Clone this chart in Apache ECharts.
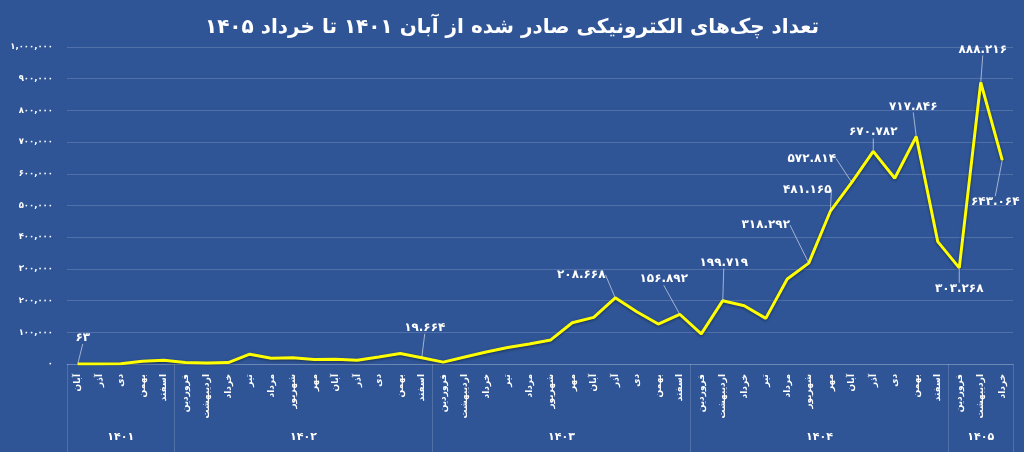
<!DOCTYPE html>
<html>
<head>
<meta charset="utf-8">
<script src="https://cdn.jsdelivr.net/npm/echarts@6/dist/echarts.min.js"></script>
<style>
  html, body { margin: 0; padding: 0; background: #2F5597; }
  #chart { width: 1024px; height: 452px; }
</style>
</head>
<body>
<div id="chart"></div>
<script>
// ---------------- DATA ----------------
const chartTitle = 'تعداد چک‌های الکترونیکی صادر شده از آبان ۱۴۰۱ تا خرداد ۱۴۰۵';

const monthLabels = [
    'آبان', 'آذر', 'دی', 'بهمن', 'اسفند',
    'فروردین', 'اردیبهشت', 'خرداد', 'تیر', 'مرداد', 'شهریور', 'مهر', 'آبان', 'آذر', 'دی', 'بهمن', 'اسفند',
    'فروردین', 'اردیبهشت', 'خرداد', 'تیر', 'مرداد', 'شهریور', 'مهر', 'آبان', 'آذر', 'دی', 'بهمن', 'اسفند',
    'فروردین', 'اردیبهشت', 'خرداد', 'تیر', 'مرداد', 'شهریور', 'مهر', 'آبان', 'آذر', 'دی', 'بهمن', 'اسفند',
    'فروردین', 'اردیبهشت', 'خرداد'
];

const years = ['۱۴۰۱', '۱۴۰۲', '۱۴۰۳', '۱۴۰۴', '۱۴۰۵'];
const monthsPerYear = [5, 12, 12, 12, 3];

const chequeCounts = [
    63, 300, 900, 8500, 12000,
    5000, 3500, 4500, 31000, 18000, 20000, 14000, 15000, 12000, 22000, 33000, 19664,
    6000, 22000, 38000, 52000, 63000, 76000, 130000, 147000, 208668, 165000, 126000, 156892,
    95000, 199719, 184000, 144000, 268000, 318292, 481165, 572814, 670782, 586000, 717846, 386000,
    303268, 888216, 643064
];

const yTicks = [0, 100000, 200000, 300000, 400000, 500000, 600000, 700000, 800000, 900000, 1000000];

// which points carry a value label, and where the label is moved (dx, dy)
const labelOffsets = {
    0: [5, -26],
    16: [3, -30],
    25: [-34, -23],
    28: [-16, -35],
    30: [1, -38],
    34: [-43, -38],
    35: [-23, -22],
    36: [-40, -24],
    37: [0, -19],
    39: [-3, -30],
    41: [0, 21],
    42: [2, -33],
    43: [-7, 42]
};

// ---------------- HELPERS ----------------
function toFa(s) {
    return String(s).replace(/\d/g, d => '۰۱۲۳۴۵۶۷۸۹'[d]);
}

function groupNum(v, sep) {
    return toFa(Math.round(v).toString().replace(/\B(?=(\d{3})+(?!\d))/g, sep));
}

// year group boundaries / centres on a -0.5 .. n-0.5 value axis
let yearBounds = [-0.5];
let yearCenters = [];
monthsPerYear.reduce((start, n) => {
    yearCenters.push(start + (n - 1) / 2);
    yearBounds.push(start + n - 0.5);
    return start + n;
}, 0);

const FONT = 'DejaVu Sans';
const gridColor = 'rgba(255,255,255,0.16)';

let seriesData = chequeCounts.map((v, i) => labelOffsets[i]
    ? { value: v, label: { show: true } }
    : v);

// ---------------- CHART ----------------
let chart = echarts.init(document.getElementById('chart'));

chart.setOption({
    backgroundColor: '#2F5597',
    animation: false,
    title: {
        text: chartTitle,
        left: 'center',
        top: 13,
        textStyle: { color: '#fff', fontFamily: FONT, fontWeight: 'bold', fontSize: 20 }
    },
    grid: { left: 67, right: 11, top: 47, bottom: 88 },
    xAxis: [
        {
            type: 'category',
            data: monthLabels,
            boundaryGap: true,
            axisLine: { show: true, lineStyle: { color: gridColor } },
            axisTick: { show: false },
            axisLabel: {
                interval: 0,
                rotate: 90,
                margin: 10,
                color: '#fff',
                fontFamily: FONT,
                fontWeight: 'bold',
                fontSize: 9
            }
        },
        {
            type: 'value',
            position: 'bottom',
            offset: 0,
            min: -0.5,
            max: monthLabels.length - 0.5,
            axisLine: { show: false },
            splitLine: { show: false },
            axisTick: {
                show: true,
                customValues: yearBounds,
                length: 90,
                lineStyle: { color: gridColor }
            },
            axisLabel: {
                show: true,
                customValues: yearCenters,
                margin: 68,
                color: '#fff',
                fontFamily: FONT,
                fontWeight: 'bold',
                fontSize: 11,
                formatter: v => {
                    let k = yearCenters.findIndex(c => Math.abs(c - v) < 0.01);
                    return k >= 0 ? years[k] : '';
                }
            }
        }
    ],
    yAxis: {
        type: 'value',
        min: yTicks[0],
        max: yTicks[yTicks.length - 1],
        interval: yTicks[1] - yTicks[0],
        axisLine: { show: false },
        axisTick: { show: false },
        splitLine: { lineStyle: { color: gridColor } },
        axisLabel: {
            margin: 14,
            color: '#fff',
            fontFamily: FONT,
            fontWeight: 'bold',
            fontSize: 8.5,
            formatter: v => groupNum(v, ',')
        }
    },
    series: [{
        type: 'line',
        xAxisIndex: 0,
        data: seriesData,
        symbol: 'circle',
        symbolSize: 1,
        showSymbol: true,
        itemStyle: { color: '#FFFF00' },
        lineStyle: {
            color: '#FFFF00',
            width: 3,
            shadowColor: 'rgba(0,0,0,0.45)',
            shadowBlur: 3,
            shadowOffsetY: 1
        },
        label: {
            show: false,
            position: 'inside',
            color: '#fff',
            fontFamily: FONT,
            fontWeight: 'bold',
            fontSize: 12,
            formatter: p => groupNum(p.value, '.')
        },
        labelLine: {
            show: true,
            lineStyle: { color: 'rgba(255,255,255,0.55)', width: 1 }
        },
        labelLayout: p => {
            let o = labelOffsets[p.dataIndex];
            return o ? { dx: o[0], dy: o[1] } : {};
        }
    }]
});
</script>
</body>
</html>
